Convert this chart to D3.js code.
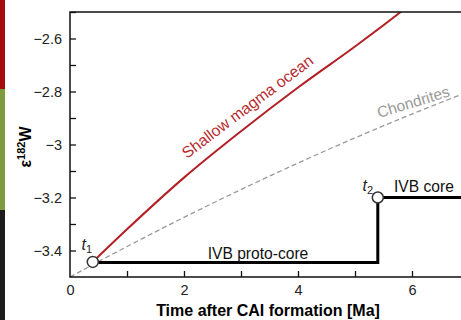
<!DOCTYPE html>
<html>
<head>
<meta charset="utf-8">
<script src="https://cdn.jsdelivr.net/npm/d3@7"></script>
<style>
  body { margin: 0; background: #fff; }
  text { font-family: "Liberation Sans", Arial, sans-serif; }
</style>
</head>
<body>
<div id="viz"></div>
<script>
// data
var magmaT = [0.4, 1, 2, 3, 4, 5, 5.8, 6.2];
var magmaW = [-3.443, -3.32, -3.125, -2.95, -2.785, -2.63, -2.5, -2.43];
var chondT = [0, 1, 2, 3, 4, 5, 6, 7];
var chondW = [-3.5, -3.385, -3.275, -3.17, -3.07, -2.975, -2.885, -2.80];
var coreT = [0.4, 5.4, 5.4, 7.2];
var coreW = [-3.445, -3.445, -3.2, -3.2];
var eventT = [0.4, 5.4];
var eventW = [-3.443, -3.2];
var xTicks = [0, 2, 4, 6];
var yTicks = [-3.4, -3.2, -3, -2.8, -2.6];

var width = 461, height = 320;
var margin = {top: 12, left: 70, bottom: 277};

var x = d3.scaleLinear().domain([0, 7]).range([margin.left, margin.left + 7 * 57]);
var y = d3.scaleLinear().domain([-3.5, -2.5]).range([margin.bottom, margin.top]);

var svg = d3.select('#viz').append('svg')
  .attr('width', width)
  .attr('height', height);

// coloured strip at the left edge (page context)
svg.append('rect').attr('x', 0).attr('y', 0).attr('width', 5).attr('height', 89).attr('fill', '#a30d0d');
svg.append('rect').attr('x', 0).attr('y', 89).attr('width', 5).attr('height', 121).attr('fill', '#7e9b3d');
svg.append('rect').attr('x', 0).attr('y', 210).attr('width', 5).attr('height', 110).attr('fill', '#1c1c1c');

svg.append('clipPath').attr('id', 'clip')
  .append('rect')
  .attr('x', margin.left).attr('y', margin.top)
  .attr('width', width - margin.left).attr('height', margin.bottom - margin.top);

var plot = svg.append('g').attr('clip-path', 'url(#clip)');

var line = d3.line().curve(d3.curveMonotoneX);

plot.append('path')
  .attr('d', line(chondT.map((t, i) => [x(t), y(chondW[i])])))
  .attr('fill', 'none')
  .attr('stroke', '#999')
  .attr('stroke-width', 1.3)
  .attr('stroke-dasharray', '5,3');

plot.append('path')
  .attr('d', line(magmaT.map((t, i) => [x(t), y(magmaW[i])])))
  .attr('fill', 'none')
  .attr('stroke', '#b41f24')
  .attr('stroke-width', 2);

plot.append('path')
  .attr('d', d3.line()(coreT.map((t, i) => [x(t), y(coreW[i])])))
  .attr('fill', 'none')
  .attr('stroke', '#000')
  .attr('stroke-width', 3);

plot.selectAll('circle').data(eventT)
  .enter().append('circle')
  .attr('cx', d => x(d))
  .attr('cy', (d, i) => y(eventW[i]))
  .attr('r', 5.5)
  .attr('fill', '#fff')
  .attr('stroke', '#333')
  .attr('stroke-width', 1.5);

// frame
svg.append('path')
  .attr('d', `M${width},${margin.top}H${margin.left}V${margin.bottom}H${width}`)
  .attr('fill', 'none')
  .attr('stroke', '#111')
  .attr('stroke-width', 1.5);

// axes with inward ticks
var yAxis = d3.axisRight(y).tickValues(d3.range(-3.4, -2.45, 0.1)).tickSize(6)
  .tickFormat(d => yTicks.some(v => Math.abs(v - d) < 1e-6) ? d3.format('')(+d.toFixed(1)).replace('-', '\u2212') : '');
var gy = svg.append('g').attr('transform', `translate(${margin.left},0)`).call(yAxis);
gy.select('.domain').remove();
gy.selectAll('line').attr('stroke', '#111').attr('stroke-width', 1.3);
gy.selectAll('text').attr('x', -8).attr('text-anchor', 'end').attr('font-size', 14.5).attr('fill', '#222');

var xAxis = d3.axisTop(x).tickValues(d3.range(0, 8, 1)).tickSize(6)
  .tickFormat(d => xTicks.includes(d) ? d : '');
var gx = svg.append('g').attr('transform', `translate(0,${margin.bottom})`).call(xAxis);
gx.select('.domain').remove();
gx.selectAll('.tick').filter(d => d === 0).select('line').remove();
gx.selectAll('line').attr('stroke', '#111').attr('stroke-width', 1.3);
gx.selectAll('text').attr('y', 18).attr('dy', 0).attr('font-size', 14.5).attr('fill', '#222');

// axis titles
svg.append('text')
  .attr('x', 268).attr('y', 316)
  .attr('text-anchor', 'middle')
  .attr('font-size', 16).attr('font-weight', 'bold')
  .text('Time after CAI formation [Ma]');

var yl = svg.append('text')
  .attr('transform', 'translate(31,147) rotate(-90)')
  .attr('text-anchor', 'middle')
  .attr('font-size', 16).attr('font-weight', 'bold');
yl.append('tspan').text('\u03b5');
yl.append('tspan').attr('font-size', 11).attr('dy', -6).text('182');
yl.append('tspan').attr('dy', 6).text('W');

// annotations
svg.append('text')
  .attr('transform', 'translate(187,159) rotate(-37)')
  .attr('font-size', 15.8).attr('fill', '#b72a2e')
  .text('Shallow magma ocean');

svg.append('text')
  .attr('transform', 'translate(379,118) rotate(-17)')
  .attr('font-size', 15.5).attr('fill', '#999')
  .text('Chondrites');

svg.append('text')
  .attr('x', 258).attr('y', 259)
  .attr('text-anchor', 'middle')
  .attr('font-size', 15.6).attr('fill', '#111')
  .text('IVB proto-core');

svg.append('text')
  .attr('x', 394).attr('y', 192)
  .attr('font-size', 15.6).attr('fill', '#111')
  .text('IVB core');

var tLabels = [{t: eventT[0], w: eventW[0], n: '1', dx: -6, dy: -12},
               {t: eventT[1], w: eventW[1], n: '2', dx: -10, dy: -7}];
tLabels.forEach(function(d) {
  var t = svg.append('text')
    .attr('x', x(d.t) + d.dx).attr('y', y(d.w) + d.dy)
    .attr('text-anchor', 'middle')
    .attr('font-size', 16).attr('fill', '#222');
  t.append('tspan').attr('font-style', 'italic').text('t');
  t.append('tspan').attr('font-size', 11).attr('dy', 3).text(d.n);
});
</script>
</body>
</html>
